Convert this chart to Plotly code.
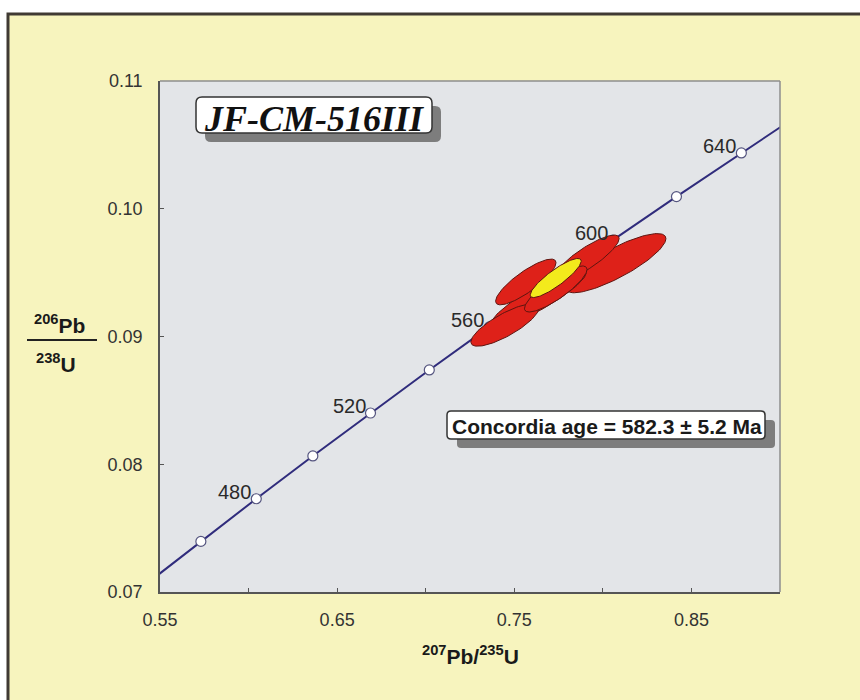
import numpy as np
import plotly.graph_objects as go

# ---------------- data ----------------
# Concordia reference points: age (Ma), 207Pb/235U, 206Pb/238U
conc_age = [440, 460, 480, 500, 520, 540, 560, 580, 600, 620, 640, 660]
conc_x = [0.54239, 0.57307, 0.60436, 0.63628, 0.66883, 0.70202,
          0.73588, 0.77041, 0.80563, 0.84155, 0.87818, 0.91554]
conc_y = [0.07064, 0.07396, 0.07730, 0.08065, 0.08401, 0.08738,
          0.09075, 0.09414, 0.09754, 0.10095, 0.10437, 0.10781]
marker_ages = [460, 480, 500, 520, 540, 560, 580, 600, 620, 640]
label_ages = [480, 520, 560, 600, 640]

# Analyses: 2-sigma error ellipses (center, half-widths, correlation)
ell_x = [0.8072, 0.7909, 0.7638, 0.7447, 0.7565, 0.7734]
ell_y = [0.09574, 0.09614, 0.09301, 0.09090, 0.09427, 0.09372]
ell_sx = [0.0284, 0.0183, 0.0268, 0.0192, 0.01705, 0.01767]
ell_sy = [0.002316, 0.00180, 0.00223, 0.00166, 0.00179, 0.00180]
ell_rho = [0.83, 0.85, 0.89, 0.80, 0.84, 0.85]

# Concordia age ellipse
cage_x, cage_y, cage_sx, cage_sy, cage_rho = 0.7734, 0.09458, 0.0144, 0.00153, 0.87

x_ticks = [0.55, 0.65, 0.75, 0.85]
x_minor = [0.60, 0.70, 0.80]
y_ticks = [0.07, 0.08, 0.09, 0.10, 0.11]

sample_name = "JF-CM-516III"
age_text = "Concordia age = 582.3 ± 5.2 Ma"

# ---------------- layout helpers ----------------
W, H = 860, 700
L, R, T, B = 160, 780, 81, 592


def px(x):
    return (x - L) / (R - L)


def py(y):
    return (B - y) / (B - T)


def rrect(x0, y0, x1, y1, r):
    pts = [
        f"M {px(x0 + r)} {py(y0)}",
        f"L {px(x1 - r)} {py(y0)}",
        f"Q {px(x1)} {py(y0)} {px(x1)} {py(y0 + r)}",
        f"L {px(x1)} {py(y1 - r)}",
        f"Q {px(x1)} {py(y1)} {px(x1 - r)} {py(y1)}",
        f"L {px(x0 + r)} {py(y1)}",
        f"Q {px(x0)} {py(y1)} {px(x0)} {py(y1 - r)}",
        f"L {px(x0)} {py(y0 + r)}",
        f"Q {px(x0)} {py(y0)} {px(x0 + r)} {py(y0)}",
        "Z",
    ]
    return " ".join(pts)


def ellipse(x, y, sx, sy, rho, n=120):
    t = np.linspace(0, 2 * np.pi, n)
    ex = x + sx * np.cos(t)
    ey = y + sy * (rho * np.cos(t) + np.sqrt(1 - rho ** 2) * np.sin(t))
    return ex, ey


fig = go.Figure()

# concordia curve
fig.add_trace(go.Scatter(x=conc_x, y=conc_y, mode="lines",
                         line=dict(color="#302c7c", width=2),
                         hoverinfo="skip"))
mk_x = [conc_x[conc_age.index(a)] for a in marker_ages]
mk_y = [conc_y[conc_age.index(a)] for a in marker_ages]
fig.add_trace(go.Scatter(x=mk_x, y=mk_y, mode="markers",
                         marker=dict(color="white", size=10,
                                     line=dict(color="#55557f", width=1.2)),
                         hoverinfo="skip"))

# analysis ellipses
for i in range(len(ell_x)):
    ex, ey = ellipse(ell_x[i], ell_y[i], ell_sx[i], ell_sy[i], ell_rho[i])
    fig.add_trace(go.Scatter(x=ex, y=ey, mode="lines", fill="toself",
                             fillcolor="#de2119",
                             line=dict(color="#5e1510", width=1),
                             hoverinfo="skip"))

ex, ey = ellipse(cage_x, cage_y, cage_sx, cage_sy, cage_rho)
fig.add_trace(go.Scatter(x=ex, y=ey, mode="lines", fill="toself",
                         fillcolor="#f3ea1c",
                         line=dict(color="#5e1510", width=1),
                         hoverinfo="skip"))

shapes = []
# outer yellow frame
shapes.append(dict(type="rect", xref="paper", yref="paper",
                   x0=px(8), x1=px(W + 20), y0=py(14), y1=py(H + 20),
                   fillcolor="#f7f4be", line=dict(color="#403a33", width=3),
                   layer="below"))
# plot area background
shapes.append(dict(type="rect", xref="paper", yref="paper",
                   x0=0, x1=1, y0=0, y1=1,
                   fillcolor="#e3e5e8", line=dict(width=0),
                   layer="below"))
# plot area top/right border
shapes.append(dict(type="line", xref="paper", yref="paper",
                   x0=0, x1=1, y0=1, y1=1, line=dict(color="#8e8e8e", width=1.5)))
shapes.append(dict(type="line", xref="paper", yref="paper",
                   x0=1, x1=1, y0=0, y1=1, line=dict(color="#8e8e8e", width=1.5)))
# title box
shapes.append(dict(type="path", xref="paper", yref="paper",
                   path=rrect(205, 106, 441, 142, 6), fillcolor="#7d7d7d",
                   line=dict(width=0)))
shapes.append(dict(type="path", xref="paper", yref="paper",
                   path=rrect(196, 97, 432, 133, 6), fillcolor="white",
                   line=dict(color="#333333", width=1.5)))
# concordia age box
shapes.append(dict(type="path", xref="paper", yref="paper",
                   path=rrect(457, 420, 775, 448, 4), fillcolor="#7d7d7d",
                   line=dict(width=0)))
shapes.append(dict(type="path", xref="paper", yref="paper",
                   path=rrect(447, 411, 765, 439, 4), fillcolor="white",
                   line=dict(color="#333333", width=1.5)))
# y-axis fraction bar
shapes.append(dict(type="line", xref="paper", yref="paper",
                   x0=px(27), x1=px(97), y0=py(340), y1=py(340),
                   line=dict(color="#222222", width=2)))

annotations = []
for a in label_ages:
    annotations.append(dict(x=conc_x[conc_age.index(a)], y=conc_y[conc_age.index(a)],
                            xref="x", yref="y", text=str(a), showarrow=False,
                            xanchor="right", yanchor="middle", xshift=-3, yshift=7,
                            font=dict(family="Liberation Sans, Arial", size=20,
                                      color="#2a2a2a")))
annotations.append(dict(x=px(314), y=py(119), xref="paper", yref="paper",
                        text=f"<b><i>{sample_name}</i></b>", showarrow=False,
                        xanchor="center", yanchor="middle",
                        font=dict(family="Liberation Serif, Times New Roman",
                                  size=36, color="#111111")))
annotations.append(dict(x=px(607), y=py(426), xref="paper", yref="paper",
                        text=f"<b>{age_text}</b>", showarrow=False,
                        xanchor="center", yanchor="middle",
                        font=dict(family="Liberation Sans, Arial", size=21,
                                  color="#1a1a1a")))
annotations.append(dict(x=px(470), y=py(655), xref="paper", yref="paper",
                        text="<b><sup>207</sup>Pb/<sup>235</sup>U</b>", showarrow=False,
                        xanchor="center", yanchor="middle",
                        font=dict(family="Liberation Sans, Arial", size=21,
                                  color="#1a1a1a")))
annotations.append(dict(x=px(59), y=py(324), xref="paper", yref="paper",
                        text="<b><sup>206</sup>Pb</b>", showarrow=False,
                        xanchor="center", yanchor="middle",
                        font=dict(family="Liberation Sans, Arial", size=21,
                                  color="#1a1a1a")))
annotations.append(dict(x=px(56), y=py(363), xref="paper", yref="paper",
                        text="<b><sup>238</sup>U</b>", showarrow=False,
                        xanchor="center", yanchor="middle",
                        font=dict(family="Liberation Sans, Arial", size=21,
                                  color="#1a1a1a")))

fig.update_layout(
    width=W, height=H,
    margin=dict(l=L, r=W - R, t=T, b=H - B, pad=0),
    paper_bgcolor="white",
    plot_bgcolor="rgba(0,0,0,0)",
    showlegend=False,
    shapes=shapes,
    annotations=annotations,
    font=dict(family="Liberation Sans, Arial", size=18, color="#333333"),
)
fig.update_xaxes(range=[0.55, 0.90], tickmode="array", tickvals=x_ticks,
                 tickformat=".2f",
                 ticks="inside", ticklen=4, tickwidth=1,
                 tickcolor="#555555", showgrid=False, zeroline=False,
                 minor=dict(tickmode="array", tickvals=x_minor, ticks="inside",
                            ticklen=4, tickwidth=1, tickcolor="#555555",
                            showgrid=False),
                 showline=True, linecolor="#555555", linewidth=1.5,
                 ticklabelstandoff=11, tickfont=dict(size=18, color="#333333"))
fig.update_yaxes(range=[0.07, 0.11], tickmode="array", tickvals=y_ticks,
                 tickformat=".2f",
                 ticks="inside", ticklen=4, tickwidth=1,
                 tickcolor="#555555", showgrid=False, zeroline=False,
                 showline=True, linecolor="#555555", linewidth=1.5,
                 ticklabelstandoff=12, tickfont=dict(size=18, color="#333333"))

fig.write_html("out.html")
